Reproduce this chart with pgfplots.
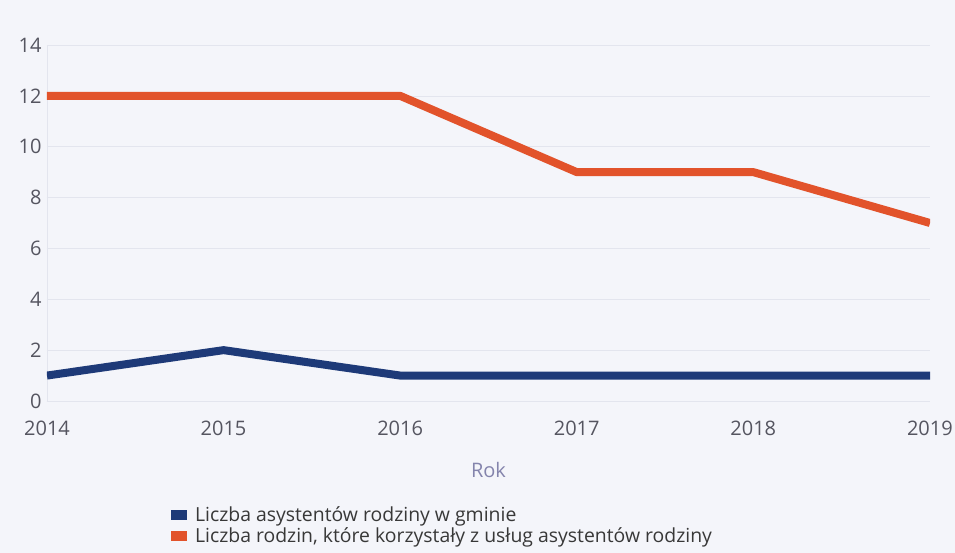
\documentclass[border=0pt]{standalone}
\usepackage{pgfplots}
\pgfplotsset{compat=1.18}
\usepackage{fontspec}
\setmainfont{Open Sans}
\definecolor{bg}{HTML}{F4F5FA}
\definecolor{grid}{HTML}{E3E5EE}
\definecolor{tick}{HTML}{555560}
\definecolor{rok}{HTML}{8484AC}
\definecolor{blueL}{HTML}{1E3A78}
\definecolor{orangeL}{HTML}{E2532B}
\begin{document}
\begin{tikzpicture}
\fill[bg] (-47pt,-152pt) rectangle (908pt,401pt);
\useasboundingbox (-47pt,-152pt) rectangle (908pt,401pt);
\begin{axis}[
  scale only axis,
  width=883pt, height=356pt,
  xmin=2014, xmax=2019, ymin=0, ymax=14,
  xtick={2014,...,2019}, ytick={0,2,...,14},
  xticklabel style={/pgf/number format/1000 sep={}},
  /pgf/number format/assume math mode=true,
  tick style={draw=none},
  ticklabel style={font=\fontsize{20}{24}\selectfont, text=tick},
  yticklabel style={xshift=-2pt},
  xticklabel style={yshift=-16pt},
  axis x line*=bottom, axis y line*=left,
  axis line style={draw=grid, line width=0.8pt, -},
  ymajorgrids, grid style={draw=grid, line width=0.6pt},
  xlabel={Rok},
  xlabel style={font=\fontsize{20}{24}\selectfont, text=rok, yshift=-20pt},
  legend style={at={(0.1369,-0.285)}, anchor=north west, draw=none, fill=none,
    font=\fontsize{19.4}{23}\selectfont, text=black!78, row sep=1pt,
    cells={anchor=west},
    /tikz/every odd column/.append style={column sep=6pt}},
  legend cell align=left,
  legend image code/.code={\path[#1, draw=none, fill] (0pt,-5pt) rectangle (16pt,5pt);},
]
\addplot[blueL, line width=8pt, line join=round] coordinates {(2014,1) (2015,2) (2016,1) (2017,1) (2018,1) (2019,1)};
\addlegendentry{Liczba asystentów rodziny w gminie}
\addplot[orangeL, line width=8pt, line join=round] coordinates {(2014,12) (2015,12) (2016,12) (2017,9) (2018,9) (2019,7)};
\addlegendentry{Liczba rodzin, które korzystały z usług asystentów rodziny}
\end{axis}
\end{tikzpicture}
\end{document}
